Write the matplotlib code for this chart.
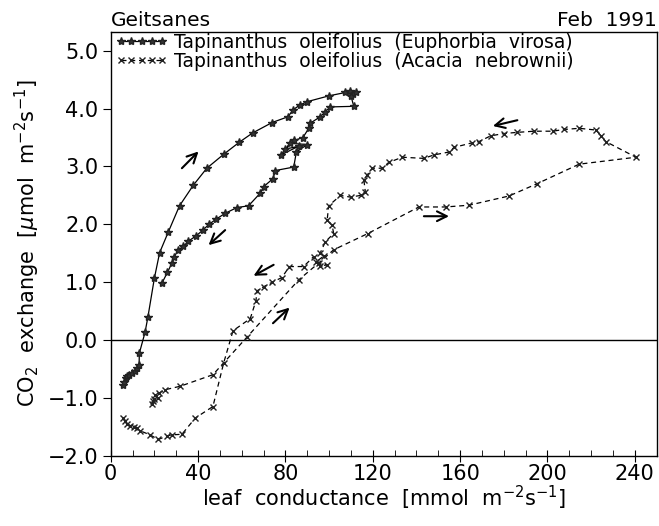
import numpy as np
import matplotlib
matplotlib.use("Agg")
import matplotlib.pyplot as plt

# Tapinanthus oleifolius on Euphorbia virosa (solid, stars)
euph_g = [5.8, 6.2, 6.8, 7.5, 8.5, 9.8, 11.2, 11.9, 13.0, 13.1, 15.7, 17.0, 20.0, 22.4,
          26.4, 31.5, 37.9, 44.0, 51.7, 58.9, 65.0, 73.9, 81.2, 83.5, 86.5, 89.9, 99.8,
          107.5, 109.5, 111.0, 112.5, 110.0, 111.3, 100.6, 98.3, 96.0, 91.4, 90.7,
          88.0, 84.0, 80.0, 86.0, 78.0, 82.0, 90.0, 85.0, 83.8, 75.4, 74.3, 70.0, 68.5,
          63.1, 57.8, 52.4, 48.3, 45.0, 42.2, 39.1, 35.6, 33.3, 31.0, 29.1, 28.0, 26.0, 23.4]
euph_a = [-0.78, -0.72, -0.66, -0.62, -0.60, -0.57, -0.53, -0.49, -0.43, -0.23, 0.13, 0.39,
          1.07, 1.51, 1.87, 2.32, 2.68, 2.97, 3.21, 3.42, 3.58, 3.76, 3.86, 3.98, 4.06, 4.12,
          4.22, 4.28, 4.30, 4.26, 4.28, 4.22, 4.04, 4.03, 3.95, 3.86, 3.75, 3.66,
          3.50, 3.45, 3.30, 3.35, 3.20, 3.40, 3.38, 3.25, 2.99, 2.93, 2.79, 2.65, 2.54,
          2.32, 2.29, 2.19, 2.09, 2.00, 1.90, 1.80, 1.71, 1.62, 1.56, 1.44, 1.33, 1.17, 0.98]

# Tapinanthus oleifolius on Acacia nebrownii (dashed, crosses)
acac_g = [19.0, 19.3, 20.0, 20.5, 21.5, 22.0, 24.9, 31.8, 46.8, 62.4, 86.1, 95.2, 102.1,
          117.7, 141.1, 153.3, 164.0, 182.4, 195.1, 214.5, 240.5, 226.7, 224.5, 222.2,
          214.5, 207.6, 202.3, 193.9, 186.2, 180.1, 174.0, 168.6, 165.6, 157.2, 154.9,
          148.0, 143.4, 133.5, 127.3, 124.3, 119.7, 117.4, 115.9, 116.6, 114.4, 109.8,
          105.2, 99.8, 99.1, 101.4, 102.1, 98.3, 96.0, 97.5, 94.0, 99.0, 96.0, 92.9, 88.3,
          81.8, 78.4, 74.0, 70.0, 67.0, 66.5, 63.9, 56.0, 51.7, 46.8, 38.7, 32.6, 28.0,
          25.7, 21.8, 18.0, 13.5, 12.0, 10.5, 9.0, 7.5, 6.5, 5.5]
acac_a = [-1.10, -1.05, -1.02, -0.95, -1.00, -0.92, -0.86, -0.80, -0.60, 0.05, 1.04, 1.33,
          1.56, 1.84, 2.30, 2.30, 2.33, 2.49, 2.70, 3.04, 3.16, 3.43, 3.53, 3.63, 3.66,
          3.64, 3.61, 3.61, 3.59, 3.57, 3.53, 3.43, 3.41, 3.33, 3.25, 3.20, 3.14, 3.16,
          3.07, 2.97, 2.97, 2.85, 2.77, 2.56, 2.50, 2.47, 2.50, 2.32, 2.07, 1.98, 1.84,
          1.70, 1.51, 1.45, 1.35, 1.30, 1.28, 1.44, 1.27, 1.27, 1.08, 1.00, 0.92, 0.85,
          0.68, 0.37, 0.16, -0.40, -1.15, -1.35, -1.63, -1.64, -1.66, -1.72, -1.64, -1.57,
          -1.53, -1.50, -1.48, -1.45, -1.40, -1.35]

# direction arrows: (tail_x, tail_y, head_x, head_y)
arrows = [(32.6, 2.97, 40.2, 3.26),
          (52.4, 1.90, 44.8, 1.64),
          (74.6, 1.30, 65.4, 1.11),
          (74.3, 0.29, 81.9, 0.56),
          (186.2, 3.80, 175.0, 3.70),
          (143.4, 2.14, 154.9, 2.14)]

plt.rcParams['font.family'] = ['DejaVu Sans']

fig = plt.figure(figsize=(6.59, 5.26), dpi=100)
ax = fig.add_axes([0.168, 0.1337, 0.8285, 0.806])

ax.axhline(0, color='black', lw=1.0)
ax.plot(euph_g, euph_a, '-', color='black', lw=0.9, marker='*', ms=6,
        mfc='#333333', mec='#222222', label='Tapinanthus  oleifolius  (Euphorbia  virosa)')
ax.plot(acac_g, acac_a, '--', color='black', lw=0.9, dashes=(4, 3), marker='x', ms=5,
        mew=1.0, mec='#222222', label='Tapinanthus  oleifolius  (Acacia  nebrownii)')

for x0, y0, x1, y1 in arrows:
    ax.annotate('', xy=(x1, y1), xytext=(x0, y0),
                arrowprops=dict(arrowstyle='->, head_length=0.5, head_width=0.25',
                                lw=1.5, color='black', shrinkA=0, shrinkB=0,
                                mutation_scale=14))

ax.set_xlim(0, 250)
ax.set_ylim(-2.0, 5.33)
ax.set_xticks(np.arange(0, 241, 40))
ax.set_xticks(np.arange(0, 241, 10), minor=True)
ax.set_yticks(np.arange(-2, 5.1, 1))
ax.set_yticklabels([f'{v:.1f}'.replace('-', '\u2212') for v in np.arange(-2, 5.1, 1)])
ax.tick_params(axis='x', which='major', direction='inout', length=8, labelsize=15, pad=2)
ax.tick_params(axis='x', which='minor', direction='in', length=4)
ax.tick_params(axis='y', which='major', direction='out', length=6, labelsize=15, pad=3)
for s in ax.spines.values():
    s.set_linewidth(1.0)

ax.set_xlabel('leaf  conductance  [mmol  m$^{-2}$s$^{-1}$]', fontsize=15, labelpad=0)
ax.set_ylabel('CO$_2$  exchange  [$\\mu$mol  m$^{-2}$s$^{-1}$]', fontsize=15, labelpad=4)
ax.set_title('Geitsanes', loc='left', fontsize=14.5, pad=4)
ax.set_title('Feb  1991', loc='right', fontsize=14.5, pad=4)

ax.legend(loc='upper left', frameon=False, fontsize=13.5, numpoints=5, handlelength=2.8,
          handletextpad=0.3, borderaxespad=0.0, labelspacing=0.0,
          bbox_to_anchor=(-0.005, 1.015))

fig.savefig('out.png', dpi=100)
